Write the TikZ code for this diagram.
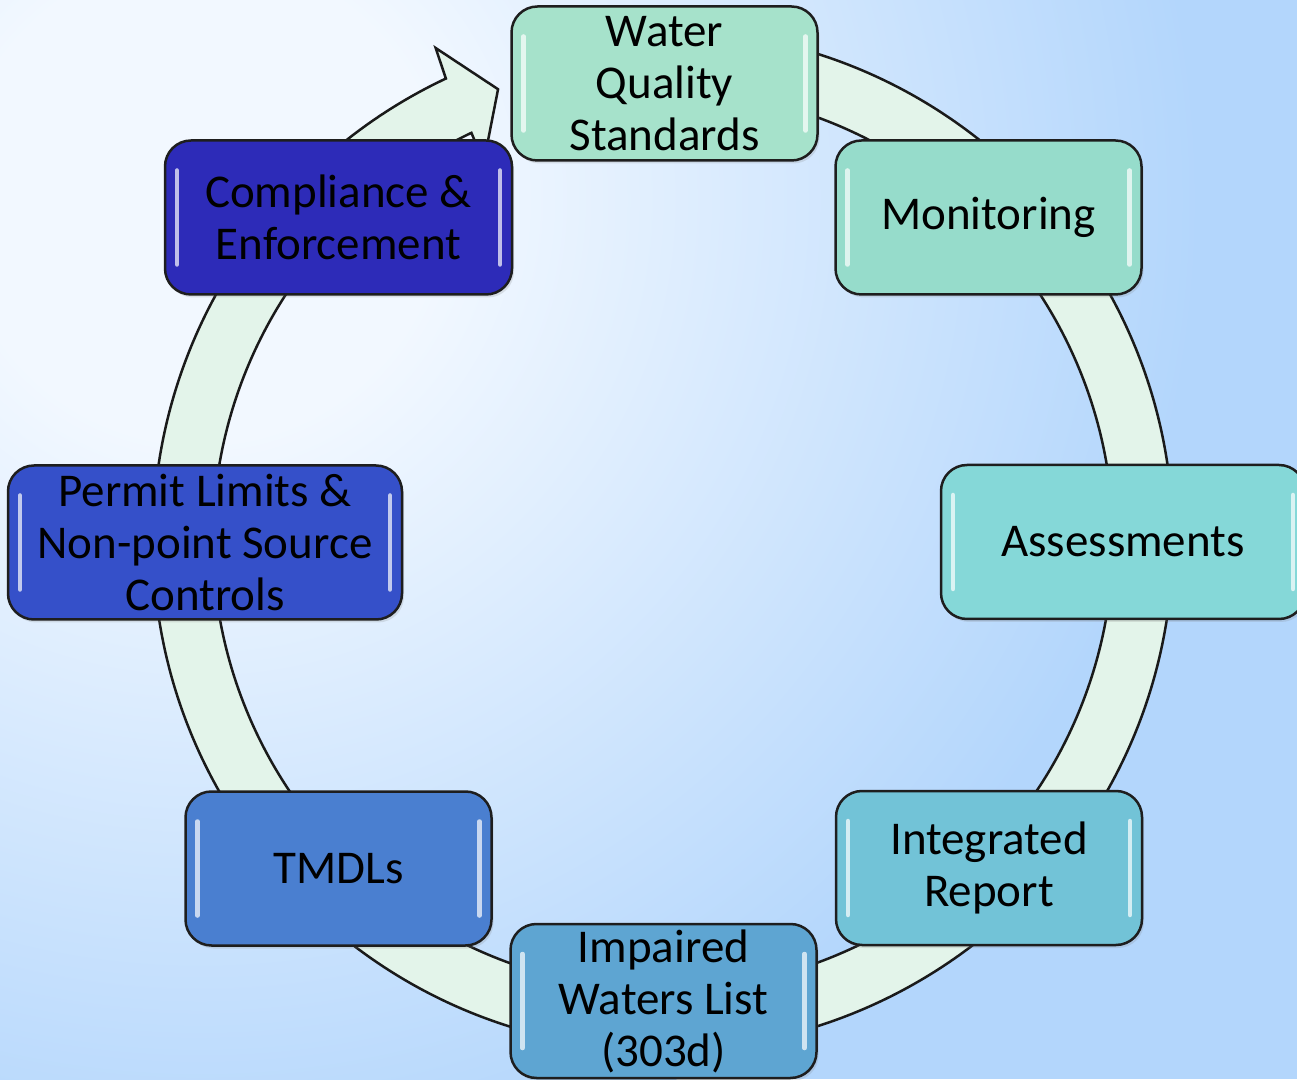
\documentclass[tikz,border=0pt]{standalone}
\usepackage{fontspec}
\setmainfont{Carlito}
\usetikzlibrary{shadows}
\definecolor{bgA}{HTML}{F2F8FF}
\definecolor{bgB}{HTML}{B3D6FC}
\definecolor{ringfill}{HTML}{E3F4EA}
\definecolor{ringline}{HTML}{1A1A1A}
\definecolor{boxline}{HTML}{1E1E1E}
\definecolor{cWQS}{HTML}{A6E2CB}
\definecolor{cMon}{HTML}{96DCCB}
\definecolor{cAss}{HTML}{85D8D8}
\definecolor{cInt}{HTML}{72C3D7}
\definecolor{cImp}{HTML}{5EA5D2}
\definecolor{cTMDL}{HTML}{4A7FD0}
\definecolor{cPer}{HTML}{3550C9}
\definecolor{cComp}{HTML}{2D2BB8}
\pgfdeclareradialshading{bgshade}{\pgfpoint{0bp}{0bp}}{color(0bp)=(bgA); color(6bp)=(bgA); color(25bp)=(bgB); color(50bp)=(bgB)}
\begin{document}
\begin{tikzpicture}[x=1pt,y=1pt,
  hlcore/.style={white, line width=4.5pt, line cap=round, opacity=0.7},
  gloss/.style={path picture={
      \draw[hlcore]
        ([xshift=12pt,yshift=-30pt]path picture bounding box.north west) --
        ([xshift=12pt,yshift=30pt]path picture bounding box.south west);
      \draw[hlcore]
        ([xshift=-12pt,yshift=-30pt]path picture bounding box.north east) --
        ([xshift=-12pt,yshift=30pt]path picture bounding box.south east);
  }},
  stage/.style={draw=boxline, line width=2.5pt, rounded corners=26pt,
    minimum width=306pt, minimum height=154pt, inner sep=0pt, align=center,
    font=\fontsize{47}{52}\selectfont, text=black,
    drop shadow={opacity=0.2, shadow xshift=2pt, shadow yshift=-3pt}, gloss},
  ring/.style={fill=ringfill, draw=ringline, line width=2.5pt, line join=miter}]
\useasboundingbox (0,0) rectangle (1297,1079);
\clip (0,0) rectangle (1297,1079);
% background
\fill[bgB] (0,0) rectangle (1297,1079);
\path[shading=bgshade] (200,879) circle (1000);
% cycle ring with arrow head
\begin{scope}[shift={(663,539)}]
  \draw[ring] (85:510) arc[start angle=85, end angle=-244.8, radius=510]
    -- (-245.2:542) -- (-249.9:480) -- (-244.6:418) -- (-244.8:450)
    arc[start angle=-244.8, end angle=85, radius=450] -- cycle;
\end{scope}
% stages
\node[stage, fill=cWQS] (wqs) at (664.5,995.5) {Water\\Quality\\Standards};
\node[stage, fill=cMon] (mon) at (988.5,861.5) {Monitoring};
\node[stage, fill=cAss, minimum width=364pt] (ass) at (1123,537) {Assessments};
\node[stage, fill=cInt] (int) at (989,211) {Integrated\\Report};
\node[stage, fill=cImp] (imp) at (663.5,78) {Impaired\\Waters List\\(303d)};
\node[stage, fill=cTMDL] (tmdl) at (338.5,210.5) {TMDLs};
\node[stage, fill=cPer, minimum width=394pt] (per) at (205,536.5) {Permit Limits \&\\Non-point Source\\Controls};
\node[stage, fill=cComp, minimum width=347pt] (comp) at (338.5,861.5) {Compliance \&\\Enforcement};
\end{tikzpicture}
\end{document}
